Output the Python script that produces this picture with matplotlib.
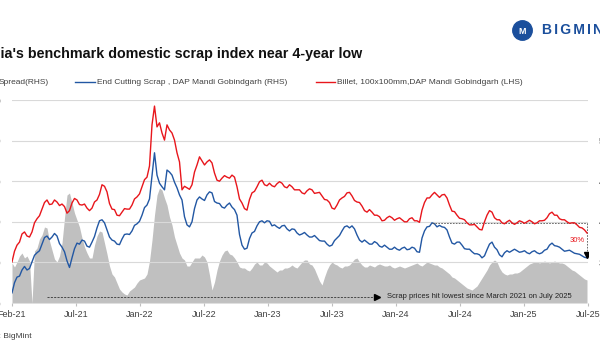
import numpy as np
import matplotlib.pyplot as plt
from matplotlib.lines import Line2D

billet = [33100, 35200, 36400, 37000, 38600, 39000, 38200, 38000, 39000, 40800,
          41600, 42200, 43500, 44800, 45300, 44400, 44500, 45300, 44900, 44200,
          44500, 44000, 42700, 43200, 44700, 45600, 45300, 44400, 44300, 44500,
          43700, 43200, 43700, 44900, 45300, 46400, 48300, 48000, 46900, 44600,
          43500, 43400, 42300, 42200, 42900, 43600, 43500, 43500, 44300, 45500,
          45900, 46500, 47900, 49300, 49800, 52000, 60100, 63800, 59700, 60500,
          58500, 57100, 60100, 59100, 58500, 57100, 54600, 52800, 47300, 48000,
          47700, 47400, 48300, 50800, 52200, 53800, 53000, 52200, 52800, 53200,
          52600, 50600, 49200, 49000, 49600, 50100, 49800, 49600, 50200, 49800,
          47900, 45500, 44700, 43600, 43300, 45400, 46700, 47000, 47900, 48900,
          49200, 48300, 48100, 48600, 48100, 47900, 48500, 48900, 48600, 47900,
          47700, 48300, 47900, 47300, 47300, 47300, 46700, 46500, 47100, 47500,
          47300, 46600, 46700, 46800, 46100, 45400, 45300, 44800, 43700, 43500,
          44300, 45300, 45700, 46000, 46700, 46800, 46100, 45200, 44900, 44800,
          44100, 43200, 42900, 43400, 42900, 42300, 42300, 42000, 41200, 41300,
          41800, 42100, 41800, 41300, 41600, 41800, 41400, 41000, 41000, 41600,
          41800, 41200, 41200, 40900, 43300, 44800, 45700, 45700, 46300, 46800,
          46300, 45800, 46300, 46400, 45700, 44300, 43100, 43000, 42300, 41700,
          41600, 41400, 40800, 40400, 40400, 40500, 40000, 39500, 39400, 41000,
          42300, 43200, 42900, 41800, 41400, 41400, 40800, 40600, 41000, 41300,
          40800, 40500, 40800, 41200, 41000, 40700, 41000, 41300, 41000, 40600,
          40800, 41200, 41200, 41300, 41800, 42600, 42900, 42300, 42300, 41600,
          41400, 41400, 41000, 40700, 40800, 40800, 40400, 39900, 39800, 39400,
          38800]

# End Cutting Scrap, DAP Mandi Gobindgarh (RHS), INR/t
scrap = [27000, 29000, 30100, 30300, 31500, 32200, 31500, 31800, 33100, 34400,
         34900, 35300, 36600, 37900, 38200, 37500, 38000, 38700, 38200, 36700,
         36000, 35100, 33300, 32000, 33900, 35700, 36800, 36600, 37400, 37200,
         36200, 36000, 37000, 38100, 39800, 41200, 41400, 40800, 39400, 38000,
         37400, 37200, 36600, 36500, 37600, 38500, 38600, 38500, 39200, 40300,
         40600, 41100, 42300, 43800, 44300, 45500, 50000, 54600, 50200, 48600,
         47900, 47300, 51200, 50800, 50200, 48800, 47700, 46300, 45300, 42000,
         40400, 40000, 41000, 43600, 45300, 45900, 45500, 45200, 46300, 46900,
         46700, 45000, 44700, 44600, 43900, 43700, 44300, 44700, 43900, 43400,
         42300, 38500, 36400, 35600, 35800, 37700, 38800, 39100, 40200, 41000,
         41200, 40800, 41200, 41100, 40200, 40400, 40000, 39700, 40200, 40300,
         39600, 39200, 39600, 39500, 38800, 38400, 38600, 38900, 38400, 38000,
         38000, 38300, 37800, 37300, 37200, 37200, 36600, 36200, 36400, 37300,
         37800, 38300, 39200, 40000, 40200, 39800, 40200, 39600, 38400, 37400,
         37000, 37400, 37000, 36600, 36600, 37100, 36800, 36200, 36000, 36400,
         36000, 35600, 35600, 36000, 35600, 35400, 35800, 36000, 35500, 35600,
         36000, 35800, 35100, 35000, 37800, 39200, 40000, 40100, 40800, 40600,
         40000, 40300, 40000, 39900, 39400, 38000, 36800, 36600, 37000, 37000,
         36400, 35700, 35600, 35600, 35100, 34700, 34700, 34500, 33900, 34300,
         35500, 36600, 37000, 36000, 35500, 34500, 34100, 34900, 35300, 35000,
         35300, 35600, 35300, 35000, 35100, 35300, 34900, 34700, 35100, 35300,
         34900, 34700, 34900, 35400, 35600, 36400, 36800, 36300, 36200, 36000,
         35600, 35200, 35300, 35400, 35100, 34800, 34700, 34600, 34300, 34000,
         33900]

# Spread (RHS), INR/t
spread = [4000, 3600, 4100, 4700, 5000, 4500, 4700, 4200, 0, 5200,
          5500, 6400, 6800, 7600, 7500, 6200, 5300, 4400, 4100, 4700,
          6000, 8500, 10800, 11000, 10000, 9000, 8300, 7600, 6500, 5600,
          5000, 4500, 4500, 5800, 6700, 7200, 7100, 6000, 4900, 3700,
          2900, 2600, 2000, 1400, 1100, 900, 800, 1200, 1400, 1600,
          2000, 2300, 2400, 2500, 2900, 4200, 6300, 8800, 10800, 11500,
          11300, 10500, 9800, 8600, 7800, 6600, 5800, 5000, 4500, 4300,
          3700, 3700, 4100, 4500, 4500, 4500, 4800, 4600, 4100, 2800,
          1300, 2100, 3300, 4200, 4800, 5200, 5300, 4900, 4800, 4500,
          4100, 3600, 3500, 3500, 3300, 3200, 3500, 3900, 4100, 3800,
          3800, 4100, 4000, 3700, 3500, 3300, 3100, 3300, 3300, 3500,
          3500, 3600, 3800, 3600, 3500, 3800, 4100, 4300, 4300, 3900,
          3800, 3400, 2800, 2200, 1800, 2600, 3300, 3800, 4100, 3900,
          3800, 3600, 3500, 3700, 3700, 3800, 4100, 4400, 4500, 4100,
          3800, 3600, 3600, 3800, 3700, 3600, 3800, 3900, 3800, 3700,
          3700, 3800, 3600, 3500, 3600, 3700, 3600, 3500, 3600, 3700,
          3800, 3900, 4000, 3800, 3700, 3900, 4100, 4000, 3900, 3800,
          3800, 3600, 3500, 3300, 3100, 2900, 2600, 2500, 2300, 2100,
          1900, 1700, 1500, 1400, 1300, 1500, 1700, 2100, 2500, 2900,
          3300, 3800, 4100, 4300, 4100, 3500, 3100, 2900, 2800, 2900,
          2900, 3000, 3000, 3100, 3300, 3500, 3700, 3900, 4000, 4100,
          4100, 4000, 4100, 4200, 4100, 4000, 4100, 4200, 4100, 4000,
          4000, 3900, 3700, 3500, 3300, 3200, 3000, 2800, 2600, 2400,
          2300]

tick_labels = ['Feb-21', 'Jul-21', 'Jan-22', 'Jul-22', 'Jan-23',
               'Jul-23', 'Jan-24', 'Jul-24', 'Jan-25', 'Jul-25']

red = '#e8161c'
blue = '#2257a3'
grey = '#c0c0c0'
txt = '#404040'

plt.rcParams['font.family'] = ['Liberation Sans', 'DejaVu Sans']

fig = plt.figure(figsize=(6, 3.5), dpi=100)
ax_r = fig.add_axes([12 / 600, 1 - 303 / 350, 576 / 600, 203 / 350])
ax_b = ax_r.twinx()
ax_s = ax_r.twinx()
ax_s.set_zorder(1)
ax_b.set_zorder(2)
ax_r.set_zorder(3)
ax_r.patch.set_visible(False)

x = np.arange(len(billet))
xmax = len(billet) - 0.6

# spread (grey area) on its own hidden scale, carries the gridlines
ax_s.fill_between(x, 0, spread, color=grey, lw=0)
ax_s.set_ylim(0, 20300)
ax_s.set_yticks(np.linspace(0, 20300, 6))
ax_s.grid(axis='y', color='#d9d9d9', lw=0.8)
ax_s.tick_params(right=False, labelright=False)

ax_b.plot(x, scrap, color=blue, lw=1.0)
ax_r.plot(x, billet, color=red, lw=1.0)

ticks = list(range(25000, 65001, 8000))
for a in (ax_r, ax_b):
    a.set_ylim(25000, 65000)
    a.set_yticks(ticks)
    a.set_yticklabels([f'{t:,}' for t in ticks])
    a.tick_params(axis='y', length=0, labelsize=6.5, labelcolor=txt, pad=8)
for a in (ax_r, ax_b, ax_s):
    a.set_xlim(0, xmax)
    for s in a.spines.values():
        s.set_visible(False)

ax_r.set_xticks(np.linspace(0, xmax, len(tick_labels)))
ax_r.set_xticklabels(tick_labels)
ax_r.tick_params(axis='x', length=2, color='#bfbfbf', labelsize=6.5,
                 labelcolor=txt, pad=3)

# 30% drop: from the 2024 scrap high to the last value
peak_i = 150 + int(np.argmax(scrap[150:]))
last_i = len(scrap) - 1
dash = (0, (2, 1.5))
ax_b.plot([peak_i, last_i], [scrap[peak_i], scrap[peak_i]], color='#555555',
          lw=0.6, ls=dash)
ax_b.plot([last_i, last_i], [scrap[peak_i], scrap[last_i] + 500], color='#555555',
          lw=0.6, ls=dash)
ax_b.plot(last_i, scrap[last_i] + 500, marker='v', ms=4, color='black')
ax_b.text(last_i - 4, (scrap[peak_i] + scrap[last_i]) / 2, '30%', color=red,
          fontsize=5.5, ha='center', va='center')

# note along the bottom
note_from, note_to, note_level = 14, 146, 600
ax_s.plot([note_from, note_to], [note_level, note_level], color='#333333',
          lw=0.6, ls=(0, (2.5, 1.5)))
ax_s.plot(note_to, note_level, marker='>', ms=4, color='black')
ax_s.text(note_to + 4, note_level, 'Scrap prices hit lowest since March 2021 on July 2025',
          fontsize=5.5, color='#222222', va='center', ha='left')

# title (left side cut off as in the source)
fig.text(362 / 600, 1 - 58 / 350, "India's benchmark domestic scrap index near 4-year low",
         fontsize=10.3, fontweight='bold', ha='right', va='baseline', color='#111111')

# legend
ly = 1 - 82 / 350
fig.text(49 / 600, ly, 'Spread(RHS)', fontsize=6, ha='right', va='center', color=txt)
fig.add_artist(Line2D([75 / 600, 95 / 600], [ly, ly], color=blue, lw=1))
fig.text(97 / 600, ly, 'End Cutting Scrap , DAP Mandi Gobindgarh (RHS)', fontsize=6,
         ha='left', va='center', color=txt)
fig.add_artist(Line2D([316 / 600, 335 / 600], [ly, ly], color=red, lw=1))
fig.text(337 / 600, ly, 'Billet, 100x100mm,DAP Mandi Gobindgarh (LHS)', fontsize=6,
         ha='left', va='center', color=txt)

# source
fig.text(32 / 600, 1 - 336 / 350, 'Source: BigMint', fontsize=6, ha='right',
         va='center', color=txt)

# logo
logo_blue = '#1b4f9c'
fig.add_artist(Line2D([522 / 600], [1 - 30 / 350], marker='o', ms=14,
                      color=logo_blue, lw=0))
fig.text(522 / 600, 1 - 31 / 350, 'M', fontsize=6.5, fontweight='bold', color='white',
         ha='center', va='center')
fig.text(542 / 600, 1 - 30 / 350, '\u2006'.join('BIGMINT'), fontsize=10,
         fontweight='bold', color=logo_blue, ha='left', va='center',
         family=['Liberation Sans', 'DejaVu Sans'])

fig.savefig('out.png', dpi=100)
